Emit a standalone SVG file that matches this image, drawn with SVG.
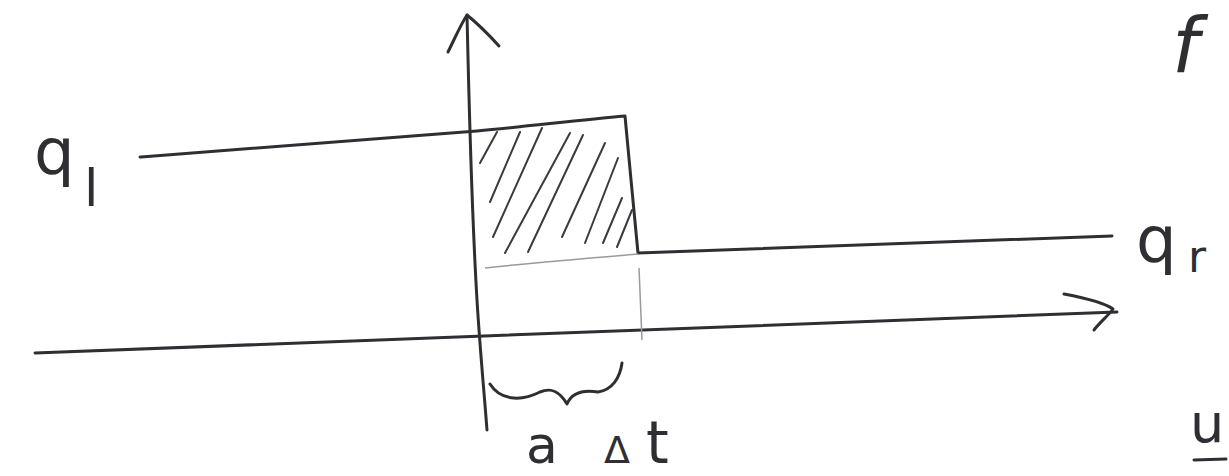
<svg xmlns="http://www.w3.org/2000/svg" width="1229" height="476" viewBox="0 0 1229 476">
<style>
.s{fill:none;stroke:#2f2f33;stroke-width:3;stroke-linecap:round;stroke-linejoin:round}
.h{fill:none;stroke:#3a3a40;stroke-width:2;stroke-linecap:round}
.t{stroke:#9a9a9a;stroke-width:1.5;fill:none}
.lbl{font-family:"DejaVu Sans","Liberation Sans",sans-serif;fill:#2f2f33}
</style>
<rect width="1229" height="476" fill="#ffffff"/>
<g id="axes">
<path class="s" d="M467,15 C470,150 474,250 477,300 C480,350 484,390 487,430"/>
<path class="s" d="M448,52 C455,38 461,24 467,15 C478,24 490,36 499,46"/>
<path class="s" d="M35,353 C300,343 700,330 1117,312"/>
<path class="s" d="M1064,294 C1085,298 1105,303 1113,309 C1108,316 1100,322 1094,330"/>
</g>
<g id="state">
<path class="s" d="M140,157 C260,148 380,138 477,131 C530,126 580,120 625,116 C629,160 634,210 638,253 C800,247 960,240 1112,236"/>
<path class="t" d="M485,268 C540,262 590,258 638,254"/>
<path class="t" d="M639,268 L642,340"/>
</g>
<g id="hatch">
<path class="h" d="M497,132 L480,163"/>
<path class="h" d="M520,132 L490,202"/>
<path class="h" d="M542,128 L493,237"/>
<path class="h" d="M570,133 L505,253"/>
<path class="h" d="M583,135 L528,252"/>
<path class="h" d="M605,143 L562,237"/>
<path class="h" d="M618,158 L585,243"/>
<path class="h" d="M622,198 L603,243"/>
<path class="h" d="M632,210 L617,247"/>
</g>
<g id="brace">
<path class="s" d="M490,384 C500,400 520,402 540,392 C552,387 560,392 567,404 C572,392 585,390 598,392 C612,390 620,378 622,363"/>
</g>
<g id="labels">
<text class="lbl" x="34" y="174" font-size="64">q</text>
<text class="lbl" x="84" y="206" font-size="52">l</text>
<text class="lbl" x="1136" y="262" font-size="64">q</text>
<text class="lbl" x="1188" y="272" font-size="44">r</text>
<text class="lbl" x="526" y="463" font-size="52">a</text>
<text class="lbl" x="604" y="463" font-size="38">Δ</text>
<text class="lbl" x="646" y="463" font-size="58">t</text>
<text class="lbl" x="1172" y="72" font-size="76" font-style="italic">f</text>
<text class="lbl" x="1190" y="442" font-size="54">u</text>
<path class="s" d="M1194,460 L1226,459"/>
</g>
</svg>
